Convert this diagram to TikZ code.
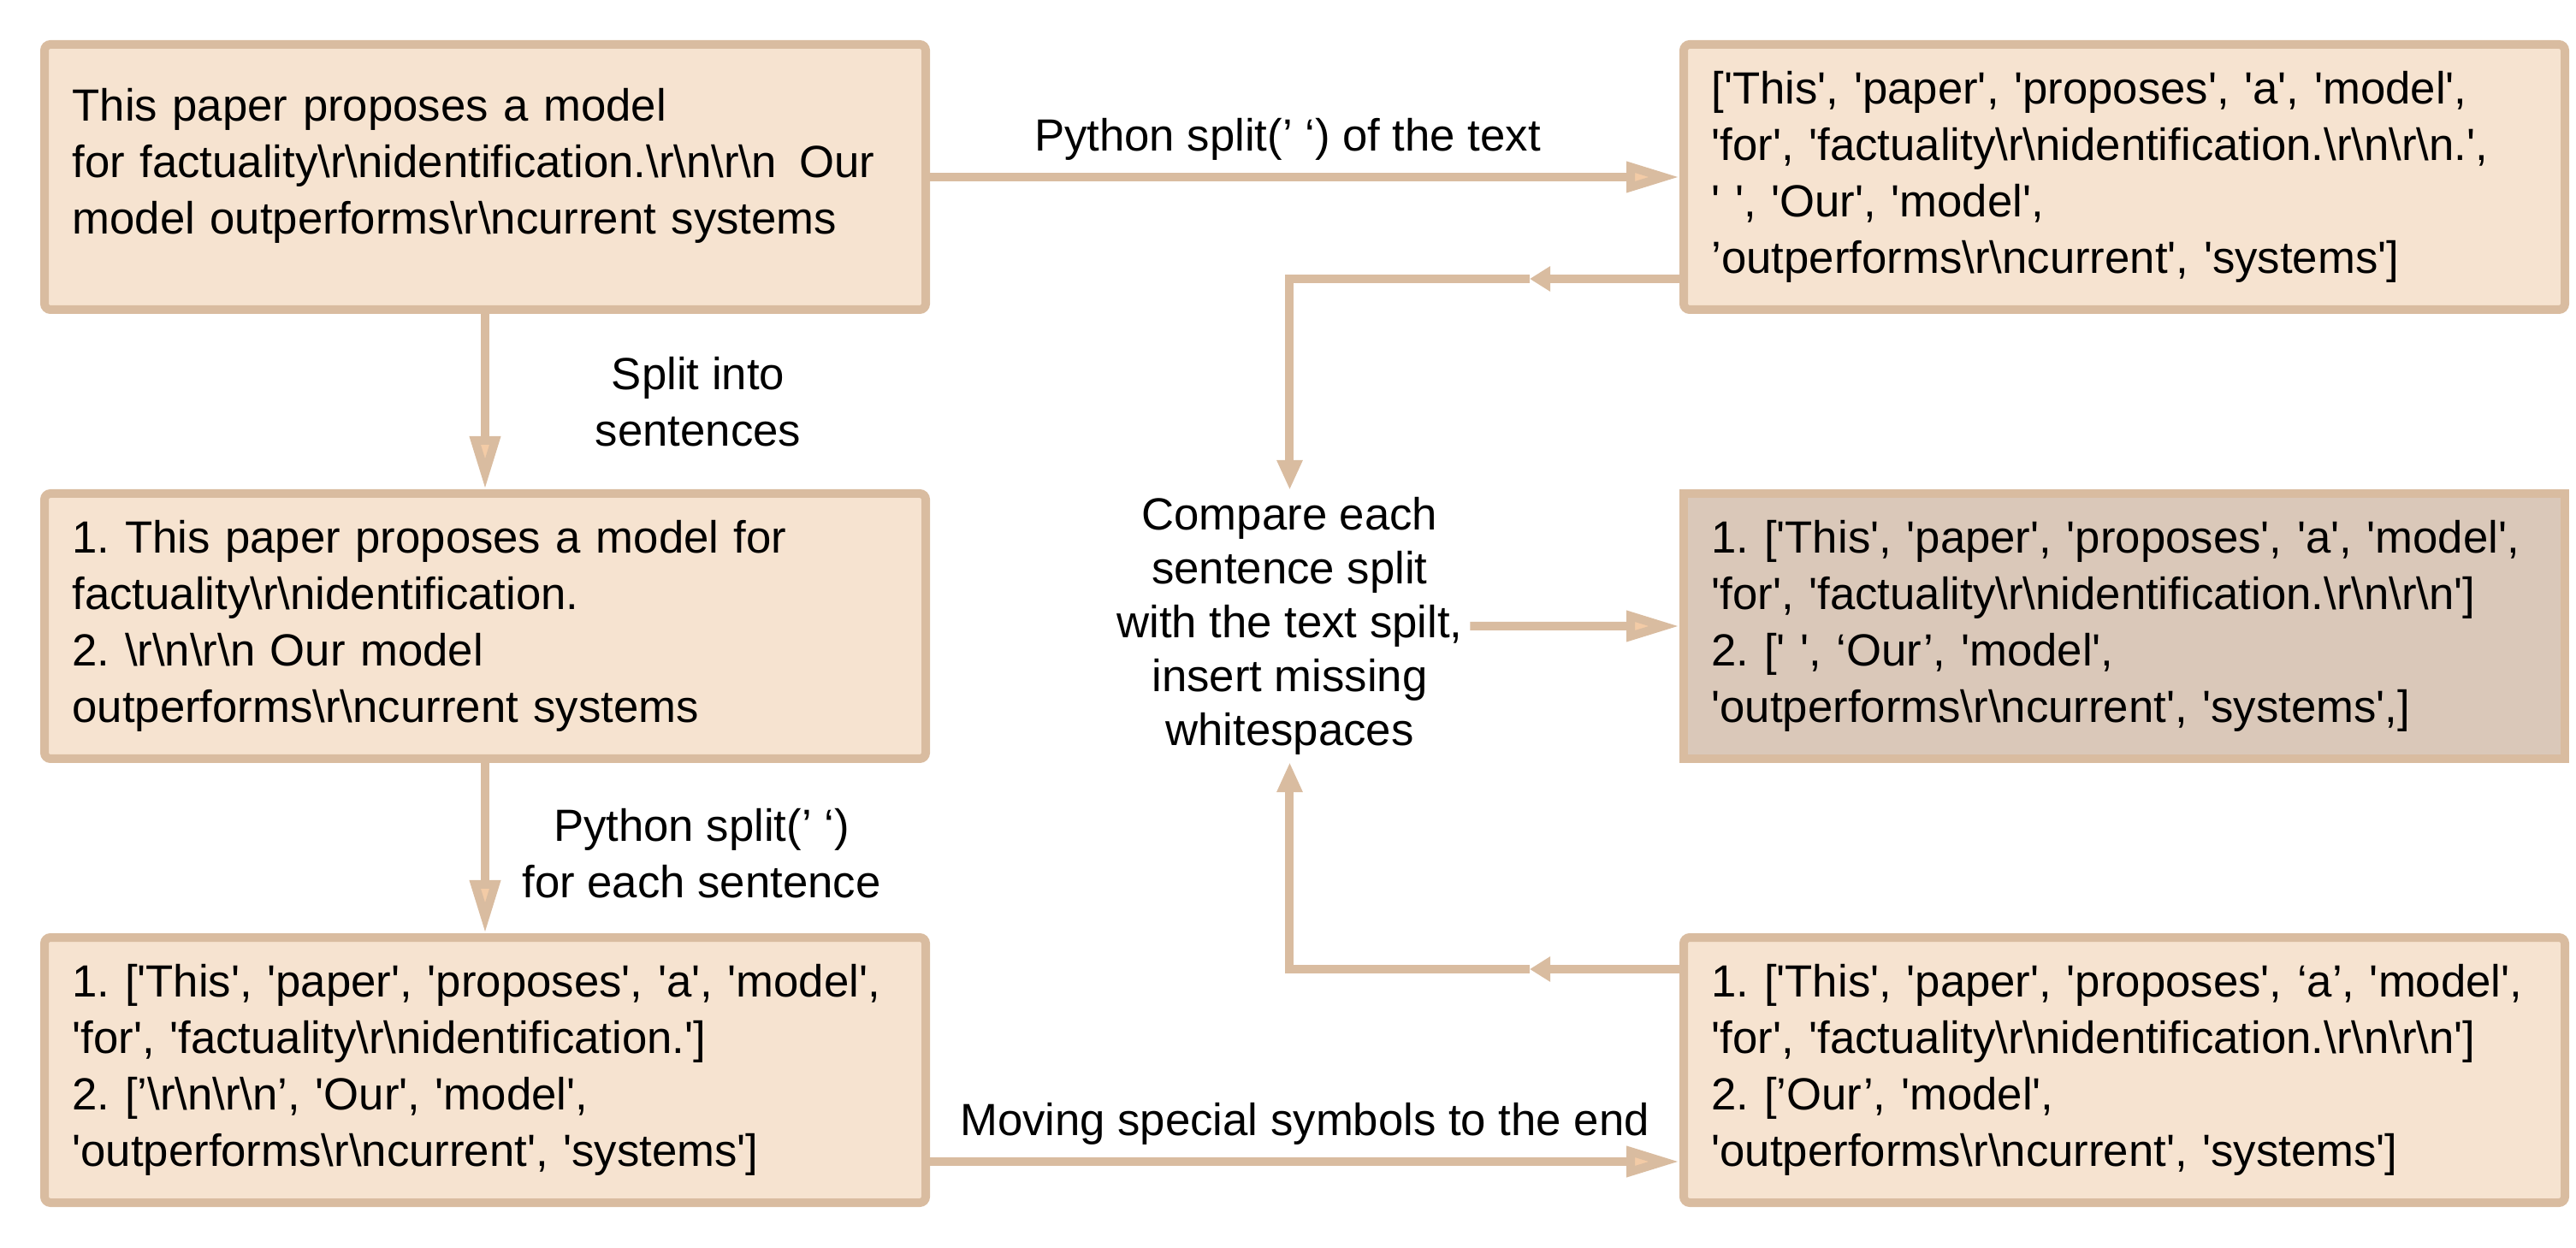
\documentclass[tikz,border=0pt]{standalone}
\usepackage{fontspec}
\newfontfamily\diafont{Liberation Sans}
\usetikzlibrary{arrows.meta,positioning,calc}
\definecolor{sandline}{HTML}{D9BCA0}
\definecolor{sandpale}{HTML}{F6E3D0}
\definecolor{sanddark}{HTML}{DAC8B9}
\definecolor{sandtip}{HTML}{F3CBA6}
\newcommand{\crlf}{\textbackslash r\textbackslash n}
\frenchspacing
\tikzset{
  tbox/.style={draw=sandline, fill=sandpale, line width=1mm, rounded corners=2pt, align=left, text width=9.65cm, minimum width=10.3cm, minimum height=3.1cm, inner sep=0pt, font=\diafont\fontsize{15}{18.8}\selectfont},
  tboxdark/.style={tbox, fill=sanddark, sharp corners},
  tarrow/.style={-{Triangle[length=6.2mm, width=3.4mm, fill=sandtip]}, line width=1mm, sandline},
  tback/.style={-{Triangle[length=2.4mm, width=2.8mm]}, line width=1mm, sandline},
  tbackend/.style={-{Triangle[length=3.5mm, width=2.8mm]}, line width=1mm, sandline},
  tlabel/.style={font=\diafont\fontsize{15}{18.8}\selectfont, align=center, inner sep=0pt, text=black},
  cmptext/.style={tlabel, font=\diafont\fontsize{15}{17.9}\selectfont, inner sep=0.8mm},
}
\begin{document}
\begin{tikzpicture}[node distance=2.05cm and 8.76cm]
  \useasboundingbox (0,0) rectangle (30.11,-14.59);
  % boxes
  \node[tbox] (rawtext) at (5.67,-2.07) {This paper proposes a model\\
    for factuality\crlf identification.\crlf\crlf\enspace Our\\
    model outperforms\crlf current systems\\[-0.29cm]\mbox{}};
  \node[tbox, right=of rawtext] (textsplit) {['This', 'paper', 'proposes', 'a', 'model',\\
    'for', 'factuality\crlf identification.\crlf\crlf.',\\
    ' ', 'Our', 'model',\\
    ’outperforms\crlf current', 'systems']};
  \node[tbox, below=of rawtext] (sentences) {1. This paper proposes a model for\\
    factuality\crlf identification.\\
    2. \crlf\crlf{} Our model\\
    outperforms\crlf current systems};
  \node[tboxdark, below=of textsplit] (fixed) {1. ['This', 'paper', 'proposes', 'a', 'model',\\
    'for', 'factuality\crlf identification.\crlf\crlf']\\
    2. [' ', ‘Our’, 'model',\\
    'outperforms\crlf current', 'systems',]};
  \node[tbox, below=1.99cm of sentences] (senttok) {1. ['This', 'paper', 'proposes', 'a', 'model',\\
    'for', 'factuality\crlf identification.']\\
    2. [’\crlf\crlf’, 'Our', 'model',\\
    'outperforms\crlf current', 'systems']};
  \node[tbox, below=1.99cm of fixed] (moved) {1. ['This', 'paper', 'proposes', ‘a’, 'model',\\
    'for', 'factuality\crlf identification.\crlf\crlf']\\
    2. [’Our’, 'model',\\
    'outperforms\crlf current', 'systems']};
  \node[cmptext] (compare) at ($(sentences.east)!0.48!(fixed.west)$) {Compare each\\
    sentence split\\with the text spilt,\\insert missing\\whitespaces};
  % main flow
  \draw[tarrow] (rawtext) -- node[tlabel, above=1.5mm, xshift=-2mm] (lwhole) {Python split(’ ‘) of the text} (textsplit);
  \draw[tarrow] (rawtext) -- node[tlabel, xshift=2.49cm] (lsent) {Split into\\sentences} (sentences);
  \draw[tarrow] (sentences) -- node[tlabel, xshift=2.53cm, yshift=-0.6mm] (leach) {Python split(’ ‘)\\for each sentence} (senttok);
  \draw[tarrow] ([yshift=-1.07cm]senttok.east) -- node[tlabel, above=1.5mm] (lmove) {Moving special symbols to the end} ([yshift=-1.07cm]moved.west);
  % back into the comparison
  \coordinate (textback) at ([xshift=-1.75cm, yshift=-1.19cm]textsplit.west);
  \coordinate (movedback) at ([xshift=-1.75cm, yshift=1.18cm]moved.west);
  \draw[tback] ([yshift=-1.19cm]textsplit.west) -- (textback);
  \draw[tbackend] (textback) -| (compare.north);
  \draw[tback] ([yshift=1.18cm]moved.west) -- (movedback);
  \draw[tbackend] (movedback) -| (compare.south);
  \draw[tarrow] (compare) -- (fixed);
\end{tikzpicture}
\end{document}
